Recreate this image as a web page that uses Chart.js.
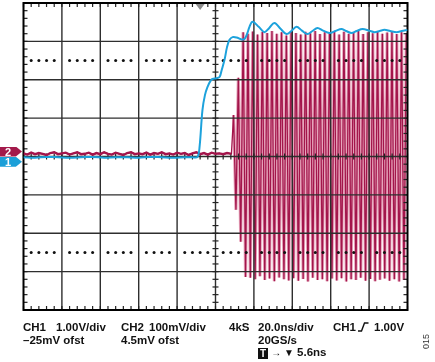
<!DOCTYPE html>
<html>
<head>
<meta charset="utf-8">
<script src="https://cdn.jsdelivr.net/npm/chart.js@4.4.1/dist/chart.umd.min.js"></script>
<style>
  html, body { margin: 0; padding: 0; background: #fff; }
  #wrap { position: relative; width: 435px; height: 362px; font-family: Arial, "Liberation Sans", sans-serif; }
  canvas { position: absolute; left: 0; top: 0; }
  .lbl { position: absolute; font-weight: bold; font-size: 11.5px; line-height: 12px; color: #111; white-space: pre; }
  .tag { position: absolute; left: 0; width: 22px; height: 10px; color: #fff; font-weight: bold; font-size: 11px;
         line-height: 10px; padding-left: 5px; box-sizing: border-box;
         clip-path: polygon(0 0, 72% 0, 100% 50%, 72% 100%, 0 100%); }
  .tbox { display: inline-block; width: 10px; height: 11px; background: #111; color: #fff; text-align: center; font-size: 10px; line-height: 11px; vertical-align: -1px; }
  .small { font-size: 10px; }
  #code { position: absolute; left: 421px; top: 349px; font-size: 9px; color: #333; transform: rotate(-90deg); transform-origin: left top; }
</style>
</head>
<body>
<div id="wrap">
  <canvas id="scope" width="435" height="362"></canvas>

  <div class="tag" id="tag2" style="background:#a31a4b;">2</div>
  <div class="tag" id="tag1" style="background:#1b9fd8;">1</div>

  <div class="lbl" style="left:23px; top:321px;">CH1</div>
  <div class="lbl" style="left:56px; top:321px;">1.00V/div</div>
  <div class="lbl" style="left:121px; top:321px;">CH2</div>
  <div class="lbl" style="left:149px; top:321px;">100mV/div</div>
  <div class="lbl" style="left:229px; top:321px;">4kS</div>
  <div class="lbl" style="left:258px; top:321px;">20.0ns/div</div>
  <div class="lbl" style="left:333px; top:321px;">CH1</div>
  <svg style="position:absolute; left:358px; top:322px;" width="11" height="10"><path d="M0 9 H3.5 L6.5 1 H10.5" fill="none" stroke="#111" stroke-width="1.4"/></svg>
  <div class="lbl" style="left:374px; top:321px;">1.00V</div>

  <div class="lbl" style="left:23px; top:334px;">–25mV ofst</div>
  <div class="lbl" style="left:121px; top:334px;">4.5mV ofst</div>
  <div class="lbl" style="left:258px; top:334px;">20GS/s</div>

  <div class="lbl" style="left:258px; top:346px;"><span class="tbox">T</span> <span class="small">→ ▼</span> 5.6ns</div>

  <div id="code">015</div>
</div>

<script>
// === EJES (pantalla del osciloscopio: 10 div x 8 div) ===
const tiempoMin = -100, tiempoMax = 100;   // ns (20 ns/div)
const divMin = -4, divMax = 4;

// === CH1 (azul) ===
const ch1Tiempos = [-100, -94, -88, -82, -76, -70, -64, -58, -52, -46, -40, -34, -28, -22, -16, -12,
  -9.4, -8.3, -6.8, -5.5, -4.2, -2.6, -1.6, 0.5, 2.1, 3.2, 4.7, 6.0, 7.3, 8.9, 11, 13.5, 15.1, 16.5,
  17.7, 19.3, 22.5, 25.5, 28, 30.7, 34, 37, 39.5, 42.2, 45, 47.9, 50.5, 53.1, 56, 59.4, 62.5, 65.6,
  68, 70.8, 73.5, 76.6, 80, 82.8, 85.5, 88, 91, 94.3, 97, 100];
const ch1Valores = [-0.02, -0.03, -0.01, -0.02, -0.03, -0.02, -0.01, -0.03, -0.02, -0.02, -0.03, -0.01, -0.02, -0.03, -0.02, -0.02,
  -0.01, 0.25, 1.21, 1.6, 1.81, 1.97, 2.02, 2.04, 2.07, 2.25, 2.52, 2.85, 3.04, 3.11, 3.1, 3.05, 3.06, 3.2,
  3.38, 3.51, 3.38, 3.24, 3.35, 3.48, 3.32, 3.19, 3.27, 3.38, 3.28, 3.19, 3.27, 3.35, 3.28, 3.22, 3.27, 3.32,
  3.27, 3.22, 3.27, 3.32, 3.28, 3.24, 3.27, 3.30, 3.27, 3.24, 3.27, 3.30];

// === CH2 (rojo) ===
const ch2RuidoInicio = -100, ch2RuidoPaso = 2;   // ns
const ch2Ruido = [0.08, 0.05, 0.1, 0.06, 0.09, 0.07, 0.04, 0.09, 0.11, 0.06, 0.08, 0.1, 0.05, 0.08, 0.11, 0.06, 0.07, 0.1,
  0.05, 0.09, 0.06, 0.11, 0.07, 0.05, 0.1, 0.07, 0.04, 0.09, 0.11, 0.06, 0.08, 0.06, 0.1, 0.05, 0.09, 0.07,
  0.11, 0.06, 0.08, 0.05, 0.1, 0.07, 0.09, 0.04, 0.08, 0.11, 0.06, 0.09, 0.05, 0.1, 0.07, 0.08, 0.06, 0.09];
const ch2Arranque = [8.3, 0.07];          // ns, div
const ch2PrimerPico = 9.4, ch2Periodo = 2.5;   // ns
const ch2Picos = [1.08, 2.05, 3.24, 3.2, 3.26, 3.18, 3.25, 3.22, 3.27, 3.2, 3.24, 3.15, 3.26, 3.22, 3.18, 3.25, 3.21, 3.27, 3.19,
  3.24, 3.22, 3.26, 3.18, 3.25, 3.2, 3.23, 3.27, 3.19, 3.24, 3.21, 3.26, 3.2, 3.23, 3.25, 3.19, 3.24, 3.22];
const ch2Valles = [-1.39, -2.22, -3.14, -3.16, -3.2, -3.12, -3.22, -3.18, -3.25, -3.15, -3.2, -3.23, -3.17, -3.24, -3.19, -3.26, -3.16, -3.22,
  -3.2, -3.25, -3.18, -3.23, -3.17, -3.26, -3.2, -3.22, -3.16, -3.24, -3.19, -3.25, -3.21, -3.18, -3.24, -3.2, -3.26, -3.22];

// marcadores de canal y disparo
const ch1Marca = -0.14, ch2Marca = 0.13;   // div
const disparoTiempo = -8;                  // ns

// === ARMAR PUNTOS ===
const puntosCh1 = ch1Tiempos.map((t, i) => ({ x: t, y: ch1Valores[i] }));

const puntosOsc = [];
ch2Picos.forEach((v, k) => {
  const t = ch2PrimerPico + k * ch2Periodo;
  puntosOsc.push({ x: t, y: v });
  if (k < ch2Valles.length) puntosOsc.push({ x: t + ch2Periodo / 2, y: ch2Valles[k] });
});
const puntosBase = ch2Ruido.map((v, i) => ({ x: ch2RuidoInicio + i * ch2RuidoPaso, y: v }))
  .concat([{ x: ch2Arranque[0], y: ch2Arranque[1] }]);
const puntosCh2 = puntosBase.concat(puntosOsc);

// === RETICULA ===
function dibujarReticula(chart) {
  const { ctx, chartArea: a, scales: { x, y } } = chart;
  const cx = x.getPixelForValue(0), cy = y.getPixelForValue(0);
  ctx.save();
  const linea = (x1, y1, x2, y2) => { ctx.beginPath(); ctx.moveTo(x1, y1); ctx.lineTo(x2, y2); ctx.stroke(); };

  ctx.strokeStyle = '#2e2e2e';
  ctx.lineWidth = 1.4;
  for (let i = -4; i <= 4; i++) { const px = x.getPixelForValue(i * 20); linea(px, a.top, px, a.bottom); }
  for (let j = -3; j <= 3; j++) { const py = y.getPixelForValue(j); linea(a.left, py, a.right, py); }

  // subdivisiones
  ctx.lineWidth = 1.2;
  ctx.strokeStyle = '#222';
  for (let t = tiempoMin; t <= tiempoMax; t += 4) {
    const px = x.getPixelForValue(t);
    linea(px, a.top, px, a.top + 4);
    linea(px, a.bottom - 4, px, a.bottom);
    linea(px, cy - 3, px, cy + 3);
  }
  for (let k = 0; k <= 40; k++) {
    const py = y.getPixelForValue(divMin + k * 0.2);
    linea(a.left, py, a.left + 4, py);
    linea(a.right - 4, py, a.right, py);
    linea(cx - 3, py, cx + 3, py);
  }

  // lineas punteadas a +/-2.5 div
  ctx.fillStyle = '#111';
  [2.5, -2.5].forEach(v => {
    const py = y.getPixelForValue(v);
    for (let t = tiempoMin + 4; t < tiempoMax; t += 4) {
      if (Math.round(t) % 20 === 0) continue;
      ctx.beginPath(); ctx.arc(x.getPixelForValue(t), py, 1.5, 0, Math.PI * 2); ctx.fill();
    }
  });

  // marco
  ctx.strokeStyle = '#000';
  ctx.lineWidth = 2;
  ctx.strokeRect(a.left, a.top, a.right - a.left, a.bottom - a.top);

  // disparo
  const tx = x.getPixelForValue(disparoTiempo);
  ctx.fillStyle = '#8c8c8c';
  ctx.beginPath(); ctx.moveTo(tx - 4.5, a.top + 1); ctx.lineTo(tx + 4.5, a.top + 1); ctx.lineTo(tx, a.top + 7); ctx.closePath(); ctx.fill();
  ctx.restore();
}

const reticula = {
  id: 'reticula',
  afterDatasetDraw(chart, args) {
    if (args.index === 2) dibujarReticula(chart);   // encima del rojo, debajo del azul
  }
};

const chart = new Chart(document.getElementById('scope'), {
  type: 'line',
  data: {
    datasets: [
      { data: puntosCh1, borderColor: '#1da2dc', borderWidth: 2, tension: 0.35, pointRadius: 0 },
      { data: puntosBase, borderColor: '#a3154b', borderWidth: 2.4, tension: 0, pointRadius: 0 },
      { data: puntosCh2, borderColor: '#a3154b', borderWidth: 1.3, tension: 0, pointRadius: 0 },
      { data: puntosOsc, borderColor: '#e7a6bc', borderWidth: 3.2, tension: 0, pointRadius: 0 }
    ]
  },
  options: {
    responsive: false,
    animation: false,
    devicePixelRatio: 1,
    layout: { padding: { left: 23.5, right: 27.5, top: 3, bottom: 52 } },
    plugins: { legend: { display: false }, tooltip: { enabled: false } },
    scales: {
      x: { type: 'linear', display: false, min: tiempoMin, max: tiempoMax },
      y: { type: 'linear', display: false, min: divMin, max: divMax }
    }
  },
  plugins: [reticula]
});

// marcadores de canal a la izquierda
document.getElementById('tag2').style.top = (chart.scales.y.getPixelForValue(ch2Marca) - 5) + 'px';
document.getElementById('tag1').style.top = (chart.scales.y.getPixelForValue(ch1Marca) - 5) + 'px';
</script>
</body>
</html>
